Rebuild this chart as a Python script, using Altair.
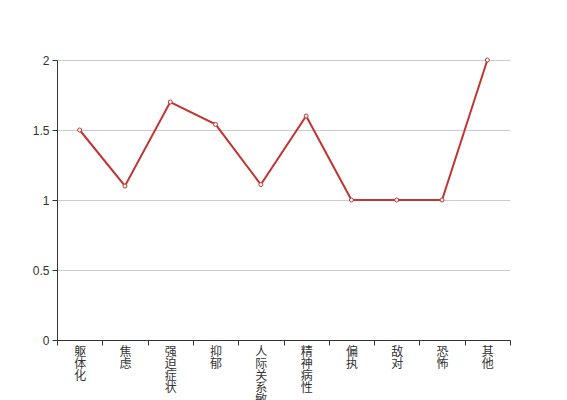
import altair as alt
import pandas as pd

categories = ["躯体化", "焦虑", "强迫症状", "抑郁", "人际关系敏感", "精神病性", "偏执", "敌对", "恐怖", "其他"]
values = [1.5, 1.1, 1.7, 1.54, 1.11, 1.6, 1.0, 1.0, 1.0, 2.0]
y_ticks = [0, 0.5, 1, 1.5, 2]

df = pd.DataFrame({"cat": categories, "val": values})

x = alt.X("cat:N", sort=categories, title=None,
          scale=alt.Scale(type="band", paddingInner=0, paddingOuter=0),
          axis=alt.Axis(labelAngle=0, tickBand="extent", labelExpr="split(datum.label, '')",
                        labelFont="Noto Sans CJK SC", labelFontSize=12, labelLineHeight=12,
                        labelColor="#333", labelBaseline="top", labelPadding=1,
                        domainColor="#333", tickColor="#333", tickSize=5, grid=False,
                        labelOverlap=False, labelBound=False))
y = alt.Y("val:Q", title=None,
          scale=alt.Scale(domain=[0, 2], nice=False),
          axis=alt.Axis(values=y_ticks, labelFont="Liberation Sans", labelFontSize=12,
                        labelColor="#333", domainColor="#333", tickColor="#333", tickSize=5,
                        labelPadding=3, grid=True, gridColor="#ccc", format="~g"))

base = alt.Chart(df)
line = base.mark_line(color="#c23531", strokeWidth=2).encode(x=x, y=y)
pts = base.mark_point(filled=True, fill="white", stroke="#c23531", strokeWidth=1, size=16, opacity=1).encode(x=x, y=y)

chart = (line + pts).properties(
    width=453, height=280,
    padding={"left": 49, "top": 52, "right": 49, "bottom": 60},
    autosize=alt.AutoSizeParams(type="none"),
).configure_view(stroke=None)

chart.save("out.html", embed_options={"renderer": "svg", "actions": False})
